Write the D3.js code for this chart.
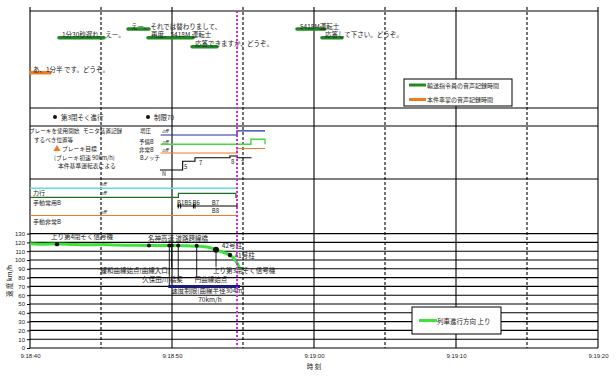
<!DOCTYPE html>
<html><head><meta charset="utf-8">
<script src="https://cdn.jsdelivr.net/npm/d3@7"></script>
<style>
body{margin:0;background:#fff}
svg{display:block}
text{font-family:"Noto Sans CJK JP","Noto Sans",sans-serif;fill:#222}
</style>
</head><body>
<svg id="c" width="616" height="379"></svg>
<script>
// ---------------- DATA ----------------
const timeTicks = [0, 10, 20, 30, 40];               // seconds after 9:18:40
const timeTickLabels = ["9:18:40", "9:18:50", "9:19:00", "9:19:10", "9:19:20"];
const halfTicks = [5, 15, 25, 35];
const speedTicks = [0,10,20,30,40,50,60,70,80,90,100,110,120,130];
const eventTime = 14.58;

// voice records (seconds, lane)
const dispatcherT0 = [2.04, 6.9, 8.31, 11.41, 18.8, 20.56];
const dispatcherT1 = [5.21, 8.38, 11.48, 13.17, 20.77, 21.97];
const dispatcherLane = [1, 0, 1, 2, 0, 1];
const dispatcherText = ["1分30秒遅れ、えー。", "えー、それでは替わりまして、", "再度、5418M 運転士", "応答できますか、どうぞ。", "5418M運転士", "応答して下さい。どうぞ。"];
const conductorT0 = [0];
const conductorT1 = [1.5];
const conductorText = ["あ、1分半 です。どうぞ。"];
const voiceLegend = ["輸送指令員の音声記録時間", "本件車掌の音声記録時間"];

// signals / points
const signalDotT = [1.76, 8.31];
const signalDotText = ["第3閉そく進行", "制限70"];

// monitor records: [time, state]
const zoatsu = [[9.2,0],[14.58,1],[16.55,1]];
const yobiB = [[9.2,0],[15.56,1],[16.55,0]];
const hijoB = [[9.2,0],[14.58,1],[16.55,1]];
const notch = [[9.15,0],[10.75,5],[11.62,7],[14.08,8],[14.58,7],[15.6,7]];
const notchLabelT = [10.85, 11.9, 14.15, 14.85];
const notchLabelV = ["5", "7", "8", "7"];
const rikko = [[0,0],[14.58,0]];
const shudoJoyo = [[0,0],[10.45,1],[14.5,0],[14.58,0]];
const shudoHijo = [[0,0],[14.58,0]];
const bTickT = [10.44, 10.61, 11.51, 11.62, 14.58];
const bLabelT = [10.35, 11.45, 12.8, 12.8];
const bLabelText = ["B1B5", "B6", "B7", "B8"];

// speed (km/h)
const speedT = [0,1,2,3,4,5,6,7,8,9,10,11,12,12.7,13.2,13.7,14.1,14.5,14.8];
const speedV = [118.5,118,118.2,117.6,117.2,117.6,117,116.8,116.6,116.5,116.5,116.3,115.5,114,111,108,105.5,99,89];
const limitT = [9.74, 14.79];
const limitV = 70;

// landmarks on the speed curve
const markT = [1.9, 8.38, 9.81, 9.98, 10.44, 11.74, 13.1, 14.08];
const markV = [118, 116.6, 116.5, 116.5, 116.5, 116.3, 111.7, 105.7];
const markR = [2.2, 2, 2, 2, 2, 2, 3, 2.2];
const leaderT = [9.81, 9.98, 10.44, 11.74, 13.1];
const leaderFromV = [116.5, 116.5, 116.5, 116.3, 111.7];
const leaderToV = [71, 91.2, 77.3, 79.2, 92.4];
const noteText = ["上り第4閉そく信号機", "名神高速 道路跨線橋", "42号柱", "41号柱", "上り第3閉そく信号機", "緩和曲線始点(曲線入口)", "久保田川 橋梁", "円曲線始点", "速度制限(曲線半径304m)", "70km/h"];
const noteT = [1.48, 8.31, 13.5, 14.4, 12.89, 9.85, 7.9, 11.6, 9.95, 11.85];
const noteV = [127.3, 125.3, 117, 106, 88.6, 88.6, 78.4, 78.4, 65.9, 55.7];
const noteAnchor = ["start","start","start","start","start","end","start","start","start","start"];
const speedLegend = ["列車進行方向 上り"];

// ---------------- LAYOUT ----------------
const svg = d3.select("#c");
const L = 30, R = 598, TOP = 11, BOT = 348;
const x = d3.scaleLinear().domain([0, 40]).range([L, R]);
const y = d3.scaleLinear().domain([0, 130]).range([BOT, 233.6]);
const lane = d3.scaleLinear().domain([0, 2]).range([29, 46.7]);
const notchY = d3.scaleLinear().domain([0, 8]).range([170, 156]);

const C = {dgreen:"#1f8a24", orange:"#ee7a26", speed:"#3de23a", navy:"#1b1b86", blue:"#1f2fa0",
  lgreen:"#45d83f", cyan:"#5fdde6", mgreen:"#1f6f22", magenta:"#cc2ecc"};

// speed gridlines
svg.append("g").selectAll("line").data(speedTicks).join("line")
  .attr("x1", L).attr("x2", R).attr("y1", d => y(d)).attr("y2", d => y(d))
  .attr("stroke", "#000").attr("stroke-width", 1.1);

// section lines
svg.append("g").selectAll("line").data([TOP, 108, 126, 179]).join("line")
  .attr("x1", L).attr("x2", R).attr("y1", d => d).attr("y2", d => d)
  .attr("stroke", "#000").attr("stroke-width", 1.1);

// vertical lines
svg.append("g").selectAll("line").data(timeTicks).join("line")
  .attr("x1", d => x(d)).attr("x2", d => x(d)).attr("y1", 7).attr("y2", BOT)
  .attr("stroke", "#000").attr("stroke-width", 1.1);
svg.append("g").selectAll("line").data(halfTicks).join("line")
  .attr("x1", d => x(d)).attr("x2", d => x(d)).attr("y1", 7).attr("y2", BOT)
  .attr("stroke", "#000").attr("stroke-width", 1.1).attr("stroke-dasharray", "3,2");

// axes
const ya = svg.append("g").attr("transform", `translate(${L},0)`)
  .call(d3.axisLeft(y).tickValues(speedTicks).tickSize(3).tickPadding(2));
ya.select(".domain").remove();
ya.selectAll("text").style("font-size", "6px").style("font-family", "Liberation Sans, Arial, sans-serif").attr("fill", "#222");
const xa = svg.append("g").attr("transform", `translate(0,${BOT})`)
  .call(d3.axisBottom(x).tickValues(timeTicks).tickFormat((d, i) => timeTickLabels[i]).tickSize(0).tickPadding(6));
xa.select(".domain").remove();
xa.selectAll("text").style("font-size", "6px").style("font-family", "Liberation Sans, Arial, sans-serif").attr("fill", "#222");
svg.append("text").attr("x", x(20)).attr("y", 366).attr("text-anchor", "middle")
  .attr("dominant-baseline", "central").style("font-size", "6.5px").text("時 刻");
svg.append("text").attr("transform", "translate(9,281) rotate(-90)").attr("text-anchor", "middle")
  .attr("dominant-baseline", "central").style("font-size", "6.5px").text("速 度  km/h");

// ---- voice bars ----
const gv = svg.append("g");
dispatcherT0.forEach((t0, i) => {
  const yy = lane(dispatcherLane[i]);
  gv.append("line").attr("x1", x(t0)).attr("x2", x(dispatcherT1[i])).attr("y1", yy).attr("y2", yy)
    .attr("stroke", C.dgreen).attr("stroke-width", 3.5).attr("stroke-linecap", "round");
  gv.append("text").attr("x", x(t0) + 3).attr("y", yy - 3.5).attr("dominant-baseline", "central")
    .style("font-size", "6.5px").text(dispatcherText[i]);
});
conductorT0.forEach((t0, i) => {
  const yy = 72.7;
  gv.append("line").attr("x1", x(t0) - 1).attr("x2", x(conductorT1[i])).attr("y1", yy).attr("y2", yy)
    .attr("stroke", C.orange).attr("stroke-width", 3.5);
  gv.append("text").attr("x", x(t0) + 3).attr("y", yy - 3.5).attr("dominant-baseline", "central")
    .style("font-size", "6.5px").text(conductorText[i]);
});
// legend 1
const lg1 = svg.append("g");
lg1.append("rect").attr("x", 404).attr("y", 79).attr("width", 108).attr("height", 27)
  .attr("fill", "#fff").attr("stroke", "#000").attr("stroke-width", 1);
voiceLegend.forEach((t, i) => {
  const yy = 85 + i * 14.5;
  lg1.append("line").attr("x1", 409).attr("x2", 426).attr("y1", yy).attr("y2", yy)
    .attr("stroke", i ? C.orange : C.dgreen).attr("stroke-width", 3);
  lg1.append("text").attr("x", 427).attr("y", yy).attr("dominant-baseline", "central")
    .style("font-size", "6px").text(t);
});

// ---- signals row ----
signalDotT.forEach((t, i) => {
  svg.append("circle").attr("cx", x(t)).attr("cy", 117).attr("r", 2).attr("fill", "#111");
  svg.append("text").attr("x", x(t) + 6).attr("y", 117).attr("dominant-baseline", "central")
    .style("font-size", "6.5px").text(signalDotText[i]);
});

// ---- brake section texts ----
const bt = [
  ["ブレーキを使用開始", 29, 131, 5.6], ["するべき位置等", 34, 139.5, 5.6], ["ブレーキ目標", 62, 148.5, 5.8],
  ["(ブレーキ初速  90km/h)", 54, 157, 5.8], ["本件基準運転表による", 58, 165.5, 5.8], ["モニタ装置記録", 83, 131, 5.6],
  ["増圧", 140, 130.5, 5.5], ["予備B", 139, 141.5, 5.5], ["非常B", 139, 149.5, 5.5], ["Bノッチ", 140, 158, 5.5], ["N", 162, 174, 5.5],
  ["力行", 33, 192, 6], ["手動常用B", 33, 202, 6], ["手動非常B", 33, 221, 6]
];
bt.forEach(d => svg.append("text").attr("x", d[1]).attr("y", d[2]).attr("dominant-baseline", "central")
  .style("font-size", d[3] + "px").text(d[0]));
svg.append("path").attr("d", d3.symbol(d3.symbolTriangle, 22)())
  .attr("transform", "translate(57,149)").attr("fill", C.orange);
[[162,130.5],[162,141],[162,149],[100,183.5],[100,192],[100,211]].forEach(p =>
  svg.append("text").attr("x", p[0]).attr("y", p[1]).attr("dominant-baseline", "central")
    .style("font-size", "5px").style("font-style", "italic").text("off"));

function stepLine(data, base, amp, color, w) {
  svg.append("path").datum(data)
    .attr("d", d3.line().x(d => x(d[0])).y(d => base - d[1] * amp).curve(d3.curveStepAfter))
    .attr("fill", "none").attr("stroke", color).attr("stroke-width", w);
}
stepLine(zoatsu, 135, 4.2, C.blue, 1.2);
stepLine(yobiB, 144.3, 5, C.lgreen, 1.4);
stepLine(hijoB, 153, 4.5, C.orange, 1.2);
svg.append("path").datum(notch)
  .attr("d", d3.line().x(d => x(d[0])).y(d => notchY(d[1])).curve(d3.curveStepAfter))
  .attr("fill", "none").attr("stroke", "#000").attr("stroke-width", 1.1);
notchLabelT.forEach((t, i) => svg.append("text").attr("x", x(t)).attr("y", notchY(+notchLabelV[i]) + 5)
  .attr("dominant-baseline", "central").style("font-size", "6px").text(notchLabelV[i]));

stepLine(rikko, 188.3, 0, C.cyan, 1.6);
stepLine(shudoJoyo, 197.3, 4, C.mgreen, 1.2);
stepLine(shudoHijo, 215.5, 0, C.orange, 1.2);
svg.append("line").attr("x1", x(10.35)).attr("x2", x(eventTime)).attr("y1", 206).attr("y2", 206)
  .attr("stroke", "#000").attr("stroke-width", 1);
svg.append("g").selectAll("line").data(bTickT).join("line")
  .attr("x1", d => x(d)).attr("x2", d => x(d)).attr("y1", 203.5).attr("y2", 208.5)
  .attr("stroke", "#000").attr("stroke-width", 1);
bLabelT.forEach((t, i) => svg.append("text").attr("x", x(t)).attr("y", i === 3 ? 210.5 : 202)
  .attr("dominant-baseline", "central").style("font-size", "6px").text(bLabelText[i]));

// ---- speed section ----
svg.append("path").datum(speedT.map((t, i) => [t, speedV[i]]))
  .attr("d", d3.line().x(d => x(d[0])).y(d => y(d[1])).curve(d3.curveMonotoneX))
  .attr("fill", "none").attr("stroke", C.speed).attr("stroke-width", 3);
svg.append("line").attr("x1", x(limitT[0])).attr("x2", x(limitT[1])).attr("y1", y(limitV)).attr("y2", y(limitV))
  .attr("stroke", C.navy).attr("stroke-width", 3);
leaderT.forEach((t, i) => svg.append("line").attr("x1", x(t)).attr("x2", x(t))
  .attr("y1", y(leaderFromV[i])).attr("y2", y(leaderToV[i])).attr("stroke", "#000").attr("stroke-width", 0.9));
markT.forEach((t, i) => svg.append("circle").attr("cx", x(t)).attr("cy", y(markV[i])).attr("r", markR[i]).attr("fill", "#111"));
noteText.forEach((t, i) => svg.append("text").attr("x", x(noteT[i])).attr("y", y(noteV[i]))
  .attr("text-anchor", noteAnchor[i]).attr("dominant-baseline", "central")
  .style("font-size", "6.5px").text(t));
// legend 2
svg.append("rect").attr("x", 412).attr("y", 307).attr("width", 89).attr("height", 27)
  .attr("fill", "#fff").attr("stroke", "#000").attr("stroke-width", 1);
svg.append("line").attr("x1", 419).attr("x2", 437).attr("y1", 320.5).attr("y2", 320.5)
  .attr("stroke", C.speed).attr("stroke-width", 3);
svg.append("text").attr("x", 437).attr("y", 320.5).attr("dominant-baseline", "central")
  .style("font-size", "6.5px").text(speedLegend[0]);

// event line
svg.append("line").attr("x1", x(eventTime)).attr("x2", x(eventTime)).attr("y1", TOP).attr("y2", BOT)
  .attr("stroke", C.magenta).attr("stroke-width", 2).attr("stroke-dasharray", "2,2");
</script>
</body></html>
